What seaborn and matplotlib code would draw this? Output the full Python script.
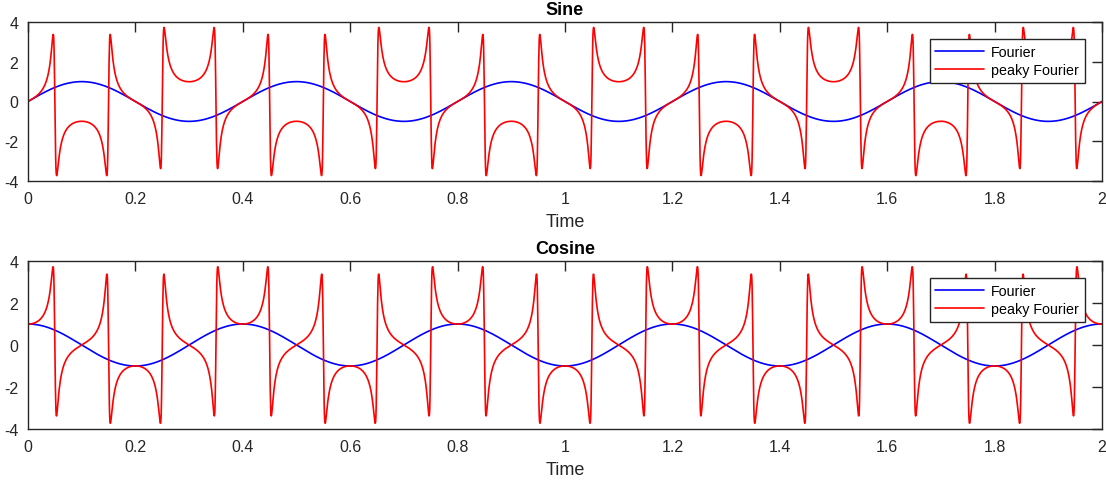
import numpy as np
import pandas as pd
import matplotlib
matplotlib.use("Agg")
import matplotlib.pyplot as plt
import seaborn as sns
from matplotlib.ticker import FuncFormatter

# ---- chart values ----
t_start, t_end = 0.0, 2.0          # time axis range (s)
n_samples = 4001
freq_hz = 2.5                      # fundamental: period 0.4 s
amplitude = 1.0                    # "Fourier" amplitude
peak_eps = 0.1                     # damping of the peaky series (peaks ~ +/-3.5)
panel_titles = ["Sine", "Cosine"]
series_names = ["Fourier", "peaky Fourier"]
x_ticks = [0, 0.2, 0.4, 0.6, 0.8, 1.0, 1.2, 1.4, 1.6, 1.8, 2.0]
y_ticks = [-4, -2, 0, 2, 4]
line_colors = ["#0000ff", "#ff0000"]

t = np.linspace(t_start, t_end, n_samples)
theta = 2 * np.pi * freq_hz * t
# Abel-summed (damped) Fourier series of sec(2*theta)
c2 = np.cos(2 * theta)
sec_series = np.sqrt(1 + peak_eps ** 2) * c2 / (c2 ** 2 + peak_eps ** 2)

base = {"Sine": amplitude * np.sin(theta), "Cosine": amplitude * np.cos(theta)}
peaky = {"Sine": base["Sine"] * sec_series, "Cosine": base["Cosine"] * sec_series}

frames = []
for p in panel_titles:
    frames.append(pd.DataFrame({"Time": t, "value": base[p], "series": series_names[0], "panel": p}))
    frames.append(pd.DataFrame({"Time": t, "value": peaky[p], "series": series_names[1], "panel": p}))
df = pd.concat(frames, ignore_index=True)

sns.set_theme(style="white")
plt.rcParams["font.family"] = ["Liberation Sans", "DejaVu Sans"]

W, H = 1106, 485
fig = plt.figure(figsize=(W / 100, H / 100), dpi=100)
boxes = [(28, 23, 1102, 182), (28, 262, 1102, 430)]
edge = "#262626"
for p, (l, tp, r, b) in zip(panel_titles, boxes):
    ax = fig.add_axes([l / W, 1 - b / H, (r - l) / W, (b - tp) / H])
    sub = df[df["panel"] == p]
    sns.lineplot(data=sub, x="Time", y="value", hue="series", palette=line_colors,
                 estimator=None, sort=False, linewidth=1.2, ax=ax)
    ax.set_xlim(t_start, t_end)
    ax.set_ylim(-4, 4)
    ax.set_xticks(x_ticks)
    ax.set_yticks(y_ticks)
    ax.xaxis.set_major_formatter(FuncFormatter(lambda v, _: f"{v:g}"))
    ax.yaxis.set_major_formatter(FuncFormatter(lambda v, _: f"{v:g}"))
    ax.tick_params(direction="in", length=7, width=1, color=edge, top=True, right=True,
                   labelsize=11.5, labelcolor=edge)
    ax.tick_params(axis="x", pad=7)
    ax.tick_params(axis="y", pad=7)
    for s in ax.spines.values():
        s.set_color(edge)
        s.set_linewidth(1)
        s.set_visible(True)
    ax.set_title(p, fontsize=13, fontweight="bold", color="black", pad=6)
    ax.set_xlabel("Time", fontsize=13, color=edge, labelpad=5)
    ax.set_ylabel("")
    leg = ax.legend(loc="upper right", fontsize=10.3, frameon=True, fancybox=False,
                    framealpha=1, edgecolor=edge, handlelength=3.4,
                    borderaxespad=1.2, borderpad=0.4, labelspacing=0.3,
                    handletextpad=0.5)
    leg.get_frame().set_linewidth(1)
    for txt in leg.get_texts():
        txt.set_color("black")

fig.savefig("out.png", dpi=100)
